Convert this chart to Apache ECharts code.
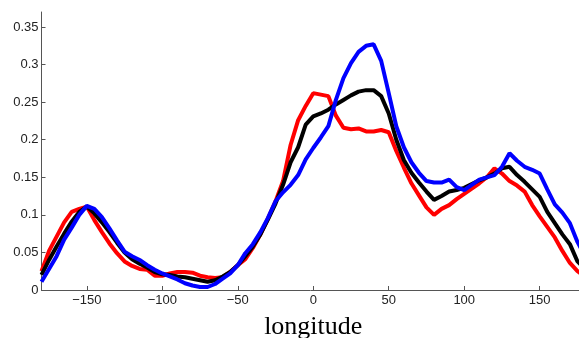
<!DOCTYPE html>
<html><head><meta charset="utf-8">
<script src="https://cdn.jsdelivr.net/npm/echarts@6/dist/echarts.min.js"></script>
<style>html,body{margin:0;padding:0;background:#fff}#c{width:579px;height:338px}</style>
</head><body><div id="c"></div>
<script>
var longitude = [-180,-175,-170,-165,-160,-155,-150,-145,-140,-135,-130,-125,-120,-115,-110,-105,-100,-95,-90,-85,-80,-75,-70,-65,-60,-55,-50,-45,-40,-35,-30,-25,-20,-15,-10,-5,0,5,10,15,20,25,30,35,40,45,50,55,60,65,70,75,80,85,90,95,100,105,110,115,120,125,130,135,140,145,150,155,160,165,170,175,180];
var redValues = [0.025,0.052,0.071,0.090,0.104,0.108,0.111,0.093,0.077,0.062,0.049,0.038,0.032,0.028,0.027,0.019,0.019,0.022,0.024,0.024,0.023,0.019,0.017,0.016,0.017,0.024,0.033,0.041,0.056,0.074,0.095,0.118,0.145,0.193,0.226,0.245,0.262,0.260,0.258,0.232,0.216,0.214,0.215,0.211,0.211,0.213,0.210,0.185,0.163,0.142,0.126,0.110,0.100,0.108,0.113,0.121,0.128,0.135,0.142,0.150,0.162,0.155,0.145,0.139,0.131,0.113,0.098,0.084,0.070,0.052,0.036,0.025,0.018];
var blackValues = [0.020,0.040,0.058,0.075,0.091,0.104,0.111,0.102,0.090,0.077,0.063,0.050,0.041,0.035,0.030,0.024,0.021,0.020,0.018,0.017,0.015,0.013,0.011,0.013,0.018,0.024,0.033,0.045,0.058,0.074,0.094,0.115,0.140,0.170,0.190,0.220,0.231,0.235,0.240,0.247,0.253,0.259,0.264,0.266,0.266,0.258,0.235,0.200,0.173,0.156,0.143,0.131,0.120,0.125,0.131,0.133,0.136,0.141,0.146,0.150,0.155,0.162,0.164,0.153,0.144,0.134,0.124,0.104,0.089,0.074,0.061,0.038,0.028];
var blueValues = [0.011,0.028,0.045,0.067,0.083,0.100,0.112,0.108,0.097,0.082,0.066,0.051,0.045,0.040,0.033,0.027,0.022,0.018,0.014,0.009,0.006,0.004,0.004,0.008,0.015,0.022,0.033,0.049,0.061,0.077,0.096,0.118,0.130,0.140,0.153,0.174,0.189,0.203,0.218,0.253,0.282,0.302,0.317,0.325,0.327,0.305,0.262,0.218,0.190,0.170,0.156,0.145,0.143,0.143,0.147,0.137,0.133,0.140,0.147,0.150,0.153,0.164,0.182,0.172,0.164,0.160,0.155,0.134,0.114,0.103,0.089,0.064,0.045];
var xTicks = [-150,-100,-50,0,50,100,150];
var yTicks = [0,0.05,0.1,0.15,0.2,0.25,0.3,0.35];
var xLabel = 'longitude';

function pairs(vals){ return longitude.map(function(x,i){ return [x, vals[i]]; }); }
function fmtY(v){ return v===0 ? '0' : String(+v.toFixed(2)); }
function fmtX(v){ return v<0 ? '\u2212'+Math.abs(v) : String(v); }

var chart = echarts.init(document.getElementById('c'), null, {renderer:'canvas'});
var lineStyle = function(c){ return {color:c, width:4}; };
chart.setOption({
  animation:false,
  backgroundColor:'#fff',
  grid:{left:41.5, right:-6, top:12, bottom:48, containLabel:false, outerBoundsMode:'none'},
  xAxis:{
    type:'value', min:-180, max:180,
    name:xLabel, nameLocation:'middle', nameGap:24,
    nameTextStyle:{fontFamily:'Liberation Serif', fontSize:26, color:'#000', verticalAlign:'top'},
    axisLine:{show:true, onZero:false, lineStyle:{color:'#555', width:1}},
    axisTick:{show:true, inside:true, length:4, customValues:xTicks, lineStyle:{color:'#555'}},
    axisLabel:{customValues:xTicks, formatter:fmtX, fontFamily:'Liberation Sans', fontSize:13, color:'#222', margin:4},
    splitLine:{show:false}
  },
  yAxis:{
    type:'value', min:0, max:0.37,
    axisLine:{show:true, onZero:false, lineStyle:{color:'#555', width:1}},
    axisTick:{show:true, inside:true, length:4, customValues:yTicks, lineStyle:{color:'#555'}},
    axisLabel:{customValues:yTicks, formatter:fmtY, fontFamily:'Liberation Sans', fontSize:13, color:'#222', margin:3},
    splitLine:{show:false}
  },
  series:[
    {type:'line', data:pairs(redValues), showSymbol:false, lineStyle:lineStyle('#ff0000'), z:2},
    {type:'line', data:pairs(blackValues), showSymbol:false, lineStyle:lineStyle('#000000'), z:3},
    {type:'line', data:pairs(blueValues), showSymbol:false, lineStyle:lineStyle('#0000ff'), z:4}
  ]
});
</script></body></html>
